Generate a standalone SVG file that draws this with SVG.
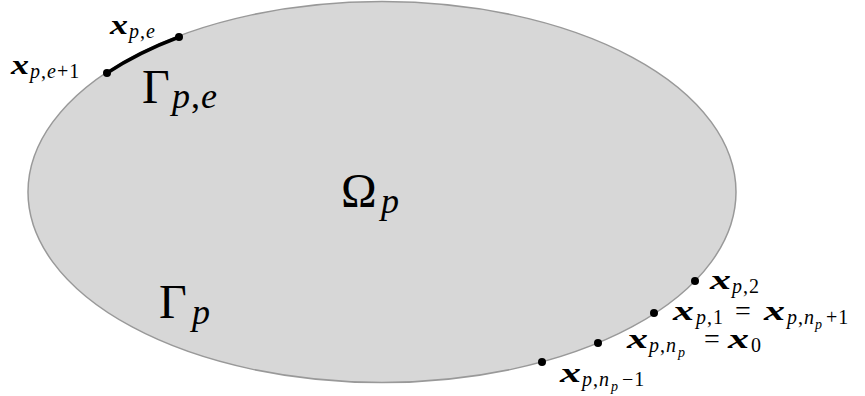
<svg xmlns="http://www.w3.org/2000/svg" width="865" height="396" viewBox="0 0 865 396">
<defs>
<style>
text{font-family:"Liberation Serif","Times New Roman","DejaVu Serif",serif;fill:#000}
.bx{font-weight:bold;font-style:italic;font-size:27px}
.s{font-size:20px;letter-spacing:1px}
.ss{font-style:italic;font-size:14px}
.i{font-style:italic}
.eq{font-size:28px}
.big{font-size:48px}
.bs{font-style:italic;font-size:36px}
.dot{fill:#000}
</style>
</defs>
<g id="domain">
<ellipse cx="382" cy="192" rx="354" ry="190.5" fill="#d7d7d7" stroke="#999" stroke-width="1.5"/>
<text class="big" x="341" y="207">Ω</text>
<text class="bs" x="381" y="213">p</text>
<text class="big" x="159" y="318">Γ</text>
<text class="bs" x="192" y="324">p</text>
</g>
<g id="edge">
<path d="M107,73 A354,190.5 0 0 1 179,37" fill="none" stroke="#000" stroke-width="3.5"/>
<text class="big" x="142" y="103">Γ</text>
<text class="bs" x="172" y="108" letter-spacing="1"><tspan>p</tspan><tspan font-style="normal">,</tspan><tspan>e</tspan></text>
</g>
<g id="nodes">
<g id="n-pe">
<circle class="dot" cx="179" cy="37" r="4"/>
<text class="bx" x="110" y="34" textLength="18" lengthAdjust="spacingAndGlyphs">x</text>
<text class="s" x="129" y="38" letter-spacing="2"><tspan class="i">p</tspan>,<tspan class="i">e</tspan></text>
</g>
<g id="n-pe1">
<circle class="dot" cx="107" cy="73" r="4"/>
<text class="bx" x="11" y="74" textLength="18" lengthAdjust="spacingAndGlyphs">x</text>
<text class="s" x="30" y="78" letter-spacing="2"><tspan class="i">p</tspan>,<tspan class="i">e</tspan>+1</text>
</g>
<g id="n-p2">
<circle class="dot" cx="695" cy="281" r="4"/>
<text class="bx" x="710" y="289" textLength="21" lengthAdjust="spacingAndGlyphs">x</text>
<text class="s" x="732" y="293" letter-spacing="2"><tspan class="i">p</tspan>,2</text>
</g>
<g id="n-p1">
<circle class="dot" cx="654" cy="313" r="4"/>
<text class="bx" x="673" y="320" textLength="21" lengthAdjust="spacingAndGlyphs">x</text>
<text class="s" x="696" y="324"><tspan class="i">p</tspan>,1</text>
<text class="eq" x="735" y="320">=</text>
<text class="bx" x="764" y="320" textLength="21" lengthAdjust="spacingAndGlyphs">x</text>
<text class="s" x="787" y="324"><tspan class="i">p</tspan>,<tspan class="i">n</tspan></text>
<text class="ss" x="815" y="329">p</text>
<text class="s" x="826" y="324">+1</text>
</g>
<g id="n-pnp">
<circle class="dot" cx="598" cy="343" r="4"/>
<text class="bx" x="627" y="348" textLength="21" lengthAdjust="spacingAndGlyphs">x</text>
<text class="s" x="649" y="352"><tspan class="i">p</tspan>,<tspan class="i">n</tspan></text>
<text class="ss" x="678" y="357">p</text>
<text class="eq" x="704" y="348">=</text>
<text class="bx" x="728" y="348" textLength="21" lengthAdjust="spacingAndGlyphs">x</text>
<text class="s" x="751" y="352">0</text>
</g>
<g id="n-pnpm1">
<circle class="dot" cx="542" cy="362" r="4"/>
<text class="bx" x="560" y="382" textLength="21" lengthAdjust="spacingAndGlyphs">x</text>
<text class="s" x="582" y="386"><tspan class="i">p</tspan>,<tspan class="i">n</tspan></text>
<text class="ss" x="611" y="391">p</text>
<text class="s" x="622" y="386">−1</text>
</g>
</g>
<g id="connectors"/>
</svg>
